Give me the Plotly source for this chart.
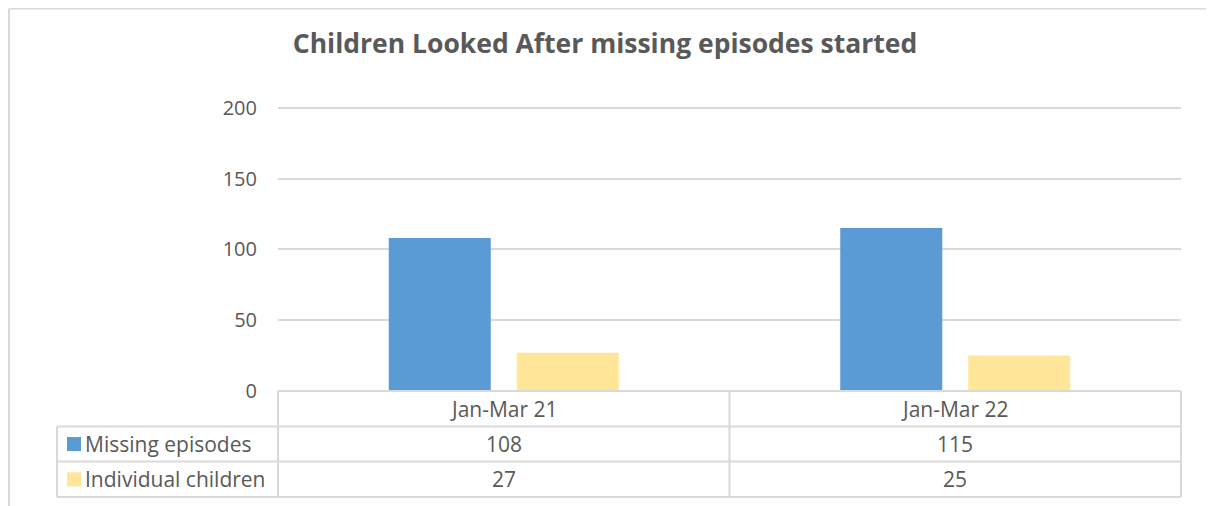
import plotly.graph_objects as go

categories = ['Jan-Mar 21', 'Jan-Mar 22']
missing_episodes = [108, 115]
individual_children = [27, 25]
series_names = ['Missing episodes', 'Individual children']
colors = ['#5B9BD5', '#FFE699']
y_ticks = [0, 50, 100, 150, 200]

W, H = 1214, 506
OFF = 8   # page body margin
Y_TOP = 204
L, R, T, B = 278 - OFF, 1181 - OFF, 108 - OFF - (391 - 108) * (Y_TOP - 200) / 200, 391 - OFF

def px_x(p):
    # screen pixel -> paper
    return (p - OFF - L) / (R - L)

def px_y(p):
    return (B - (p - OFF)) / (B - T)

grey = '#595959'
line = '#D9D9D9'
font = 'Open Sans'
fs = 21

fig = go.Figure()
for name, vals, col in zip(series_names, [missing_episodes, individual_children], colors):
    fig.add_trace(go.Bar(x=categories, y=vals, name=name, marker=dict(color=col, line=dict(width=0))))

shapes = []
# outer chart border (left edge sits on the page edge)
for xa, xb, ya, yb in [(9, 9, 9, 520), (1208, 1208, 9, 520), (9, 1208, 9, 9)]:
    shapes.append(dict(type='line', xref='paper', yref='paper', x0=px_x(xa), x1=px_x(xb), y0=px_y(ya), y1=px_y(yb),
                       line=dict(color=line, width=2), layer='below'))
# data table
row_edges = [391, 426.5, 461.5, 497]
for i, yy in enumerate(row_edges):
    x0 = 278 if i == 0 else 57
    shapes.append(dict(type='line', xref='paper', yref='paper', x0=px_x(x0), x1=px_x(1181), y0=px_y(yy), y1=px_y(yy),
                       line=dict(color=line, width=2)))
for xx, ytop in [(57, 426.5), (278, 391), (729.5, 391), (1181, 391)]:
    shapes.append(dict(type='line', xref='paper', yref='paper', x0=px_x(xx), x1=px_x(xx), y0=px_y(ytop), y1=px_y(497),
                       line=dict(color=line, width=2)))

annotations = []
row_mid = [(row_edges[i] + row_edges[i + 1]) / 2 for i in range(3)]
for c in categories:
    annotations.append(dict(x=c, xref='x', y=px_y(row_mid[0]), yref='paper', yanchor='middle', text=c,
                            showarrow=False, font=dict(size=fs, color=grey, family=font)))
for r, (name, vals, col) in enumerate(zip(series_names, [missing_episodes, individual_children], colors)):
    ym = row_mid[r + 1]
    shapes.append(dict(type='rect', xref='paper', yref='paper', x0=px_x(67), x1=px_x(81), y0=px_y(ym + 7), y1=px_y(ym - 7),
                       fillcolor=col, line=dict(width=0)))
    annotations.append(dict(x=px_x(83), xref='paper', y=px_y(ym), yref='paper', yanchor='middle', text=name,
                            showarrow=False, xanchor='left', font=dict(size=fs, color=grey, family=font)))
    for c, v in zip(categories, vals):
        annotations.append(dict(x=c, xref='x', y=px_y(ym), yref='paper', yanchor='middle', text=str(v),
                                showarrow=False, font=dict(size=fs, color=grey, family=font)))

fig.update_layout(
    width=W, height=H,
    margin=dict(l=L, r=W - R, t=T, b=H - B, autoexpand=False),
    paper_bgcolor='white', plot_bgcolor='white',
    title=dict(text='<b>Children Looked After missing episodes started</b>', x=(605 - OFF) / W, xanchor='center',
               y=1 - (44 - OFF) / H, yanchor='middle', font=dict(size=26.5, color=grey, family=font)),
    showlegend=False,
    barmode='group', bargap=0.433, bargroupgap=0.203,
    xaxis=dict(showticklabels=False, showgrid=False, showline=False, zeroline=False),
    yaxis=dict(range=[0, Y_TOP], tickvals=y_ticks, showgrid=True, gridcolor=line, gridwidth=1.5,
               zeroline=True, zerolinecolor=line, zerolinewidth=2, showline=False,
               ticklabelstandoff=20, tickfont=dict(size=20, color=grey, family=font)),
    shapes=shapes, annotations=annotations,
    font=dict(family=font),
)

fig.write_html('out.html')
